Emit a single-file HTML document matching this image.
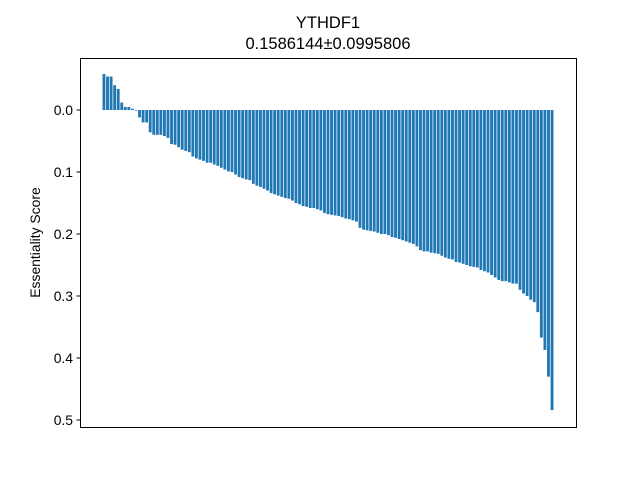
<!DOCTYPE html>
<html><head><meta charset="utf-8"><style>
body{margin:0;background:#fff}
svg{display:block;font-family:"Liberation Sans","DejaVu Sans",sans-serif}
</style></head><body>
<svg id="chart" width="640" height="480">
<rect x="0" y="0" width="640" height="480" fill="#fff"/>
<text x="328" y="28" text-anchor="middle" font-size="16.5">YTHDF1</text>
<text x="328" y="49" text-anchor="middle" font-size="16.5">0.1586144±0.0995806</text>
<g id="bars"></g>
<g id="yaxis"></g>
<rect x="80.5" y="58.5" width="496" height="369" fill="none" stroke="#000" stroke-width="1"/>
<text transform="translate(40,242.5) rotate(-90)" text-anchor="middle" font-size="13.9">Essentiality Score</text>
</svg>
<script>
const values = [
-0.058,-0.054,-0.054,-0.04,-0.034,-0.012,-0.005,-0.005,-0.002,0.001,
0.012,0.02,0.02,0.036,0.04,0.04,0.04,0.042,0.045,0.055,
0.056,0.06,0.064,0.066,0.068,0.075,0.078,0.08,0.082,0.085,
0.085,0.088,0.09,0.093,0.096,0.099,0.1,0.104,0.108,0.11,
0.112,0.113,0.119,0.122,0.124,0.127,0.13,0.134,0.136,0.138,
0.14,0.142,0.143,0.146,0.15,0.152,0.155,0.156,0.158,0.158,
0.16,0.162,0.166,0.168,0.169,0.17,0.171,0.173,0.175,0.176,
0.178,0.18,0.19,0.193,0.194,0.195,0.196,0.198,0.2,0.2,
0.202,0.205,0.206,0.208,0.21,0.212,0.214,0.216,0.22,0.226,
0.228,0.228,0.23,0.231,0.232,0.235,0.238,0.24,0.241,0.245,
0.246,0.248,0.25,0.252,0.253,0.254,0.258,0.26,0.262,0.266,
0.27,0.274,0.276,0.276,0.278,0.28,0.28,0.29,0.296,0.3,
0.306,0.31,0.326,0.367,0.387,0.43,0.484
];
const yTicks = [0.0,0.1,0.2,0.3,0.4,0.5];
const yTickLabels = ["0.0","0.1","0.2","0.3","0.4","0.5"];

const L=80,R=576,T=58,B=427;
const n=values.length;
const span=(n-1)+0.8, pad=span*0.05;
const x0=-0.4-pad, x1=n-1+0.4+pad;
const xs=v=>L+(v-x0)/(x1-x0)*(R-L);
const y0=-0.0839, y1=0.5113;
const ys=v=>T+(v-y0)/(y1-y0)*(B-T);
const NS="http://www.w3.org/2000/svg";
const gb=document.getElementById('bars');
values.forEach((v,i)=>{
  const r=document.createElementNS(NS,'rect');
  const a=ys(0), b=ys(v);
  r.setAttribute('x',xs(i-0.4));
  r.setAttribute('width',xs(i+0.4)-xs(i-0.4));
  r.setAttribute('y',Math.min(a,b));
  r.setAttribute('height',Math.abs(b-a));
  r.setAttribute('fill','#1f77b4');
  
  
  gb.appendChild(r);
});
const gy=document.getElementById('yaxis');
yTicks.forEach((t,i)=>{
  const y=ys(t);
  const l=document.createElementNS(NS,'line');
  l.setAttribute('x1',L-3.5);l.setAttribute('x2',L);
  l.setAttribute('y1',y);l.setAttribute('y2',y);
  l.setAttribute('stroke','#000');
  
  
  gy.appendChild(l);
  const tx=document.createElementNS(NS,'text');
  tx.setAttribute('x',L-7);tx.setAttribute('y',y+5);
  tx.setAttribute('text-anchor','end');tx.setAttribute('font-size','13.9');
  tx.textContent=yTickLabels[i];
  
  
  gy.appendChild(tx);
});
</script>
</body></html>
